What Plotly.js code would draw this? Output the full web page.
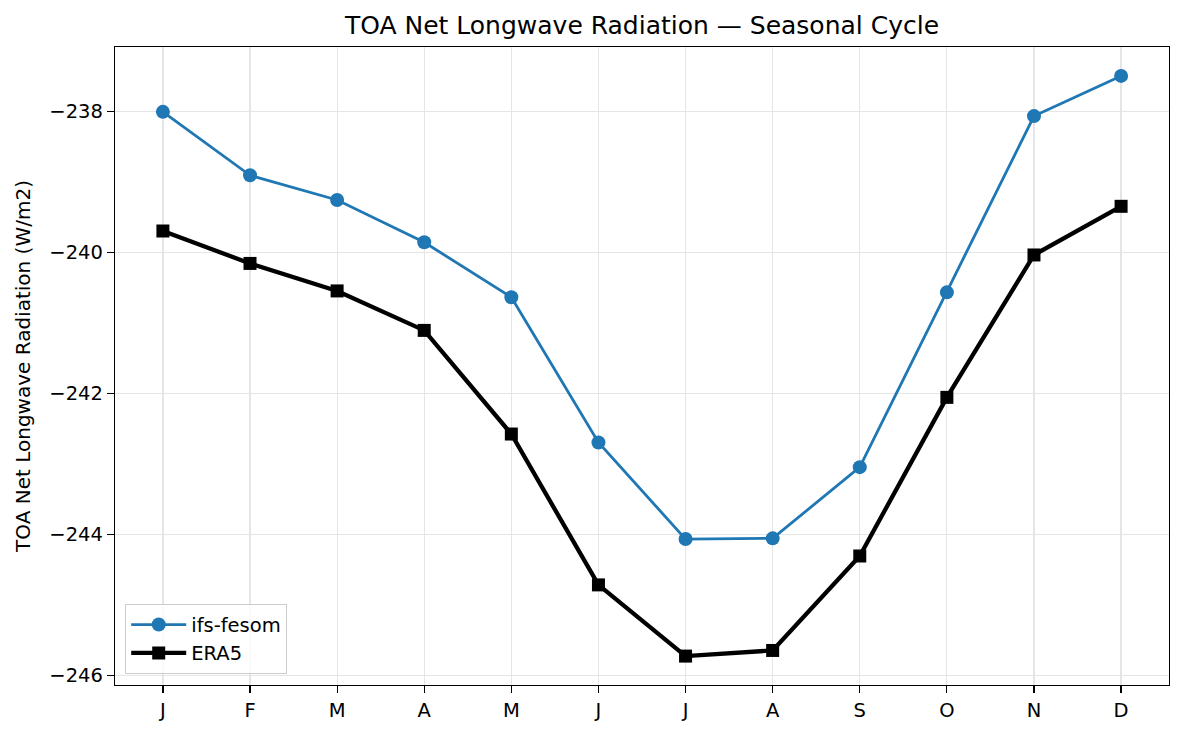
<!DOCTYPE html>
<html>
<head>
<meta charset="utf-8">
<script src="https://cdn.plot.ly/plotly-3.0.1.min.js"></script>
<style>html,body{margin:0;padding:0;background:#fff;}#chart{width:1183px;height:735px;}</style>
</head>
<body>
<div id="chart"></div>
<script>
const months = ["J","F","M","A","M","J","J","A","S","O","N","D"];
const monthIndex = [0,1,2,3,4,5,6,7,8,9,10,11];
const ifsFesom = [-238.01,-238.91,-239.26,-239.86,-240.64,-242.70,-244.07,-244.06,-243.05,-240.57,-238.07,-237.50];
const era5 = [-239.70,-240.16,-240.55,-241.11,-242.58,-244.72,-245.73,-245.65,-244.31,-242.06,-240.04,-239.35];
const yTicks = [-246,-244,-242,-240,-238];
const yTickText = yTicks.map(v => "\u2212" + Math.abs(v));

const font = {family: "DejaVu Sans, sans-serif", color: "#000"};

const traces = [
  {x: monthIndex, y: ifsFesom, name: "ifs-fesom", mode: "lines+markers",
   line: {color: "#1f77b4", width: 2.8}, marker: {symbol: "circle", size: 14, color: "#1f77b4"}},
  {x: monthIndex, y: era5, name: "ERA5", mode: "lines+markers",
   line: {color: "#000000", width: 4.3}, marker: {symbol: "square", size: 13, color: "#000000"}}
];

const layout = {
  width: 1183, height: 735,
  margin: {l: 115, r: 14, t: 47, b: 50},
  paper_bgcolor: "#fff", plot_bgcolor: "#fff",
  title: {text: "TOA Net Longwave Radiation \u2014 Seasonal Cycle", font: Object.assign({size: 25}, font),
          x: 0.5, xref: "paper", y: 1, yref: "paper", yanchor: "bottom", pad: {b: 13}},
  xaxis: {range: [-0.55, 11.55], tickvals: monthIndex, ticktext: months,
          showgrid: true, gridcolor: "#e5e5e5", gridwidth: 1.2, zeroline: false,
          showline: true, linecolor: "#000", linewidth: 1.2, mirror: true,
          ticks: "outside", ticklen: 7, tickcolor: "#000", tickwidth: 1.2,
          tickfont: Object.assign({size: 19.5}, font)},
  yaxis: {range: [-246.14, -237.09], tickvals: yTicks, ticktext: yTickText,
          showgrid: true, gridcolor: "#e5e5e5", gridwidth: 1.2, zeroline: false,
          showline: true, linecolor: "#000", linewidth: 1.2, mirror: true,
          ticks: "outside", ticklen: 7, tickcolor: "#000", tickwidth: 1.2,
          tickfont: Object.assign({size: 19.5}, font),
          title: {text: "TOA Net Longwave Radiation (W/m2)", font: Object.assign({size: 20}, font), standoff: 13}},
  showlegend: true,
  legend: {x: 0.0095, y: 0.017, xanchor: "left", yanchor: "bottom",
           bgcolor: "rgba(255,255,255,0.8)", bordercolor: "#cccccc", borderwidth: 1.2,
           itemwidth: 55,
           font: Object.assign({size: 19.5}, font), tracegroupgap: 2}
};

Plotly.newPlot("chart", traces, layout, {displayModeBar: false, staticPlot: true});
</script>
</body>
</html>
